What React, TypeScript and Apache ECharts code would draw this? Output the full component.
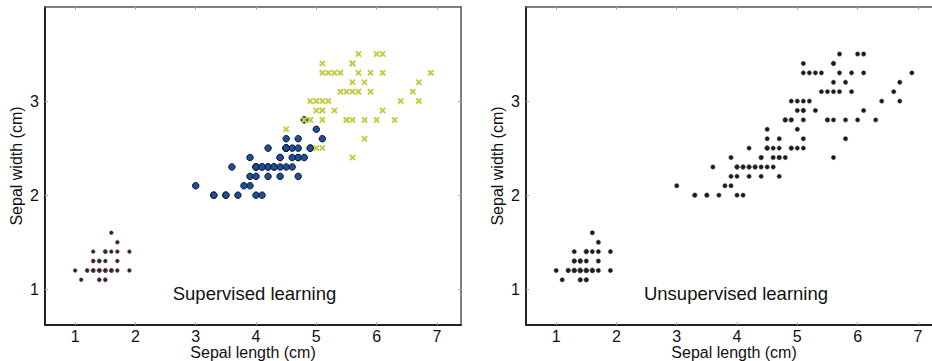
import React, { useEffect, useRef } from "react";
import * as echarts from "echarts";

// Petal-type measurements as plotted (x: "Sepal length (cm)", y: "Sepal width (cm)")
const setosaX = [1.4,1.4,1.3,1.5,1.4,1.7,1.4,1.5,1.4,1.5,1.5,1.6,1.4,1.1,1.2,1.5,1.3,1.4,1.7,1.5,1.7,1.5,1.0,1.7,1.9,1.6,1.6,1.5,1.4,1.6,1.6,1.5,1.5,1.4,1.5,1.2,1.3,1.4,1.3,1.5,1.3,1.3,1.3,1.6,1.9,1.4,1.6,1.4,1.5,1.4];
const setosaY = [1.2,1.2,1.2,1.2,1.2,1.4,1.3,1.2,1.2,1.1,1.2,1.2,1.1,1.1,1.2,1.4,1.4,1.3,1.3,1.3,1.2,1.4,1.2,1.5,1.2,1.2,1.4,1.2,1.2,1.2,1.2,1.4,1.1,1.2,1.2,1.2,1.2,1.1,1.2,1.2,1.3,1.3,1.2,1.6,1.4,1.3,1.2,1.2,1.2,1.2];

const versicolorX = [4.7,4.5,4.9,4.0,4.6,4.5,4.7,3.3,4.6,3.9,3.5,4.2,4.0,4.7,3.6,4.4,4.5,4.1,4.5,3.9,4.8,4.0,4.9,4.7,4.3,4.4,4.8,5.0,4.5,3.5,3.8,3.7,3.9,5.1,4.5,4.5,4.7,4.4,4.1,4.0,4.4,4.6,4.0,3.3,4.2,4.2,4.2,4.3,3.0,4.1];
const versicolorY = [2.4,2.5,2.5,2.3,2.5,2.3,2.6,2.0,2.3,2.4,2.0,2.5,2.0,2.4,2.3,2.4,2.5,2.0,2.5,2.1,2.8,2.3,2.5,2.2,2.3,2.4,2.4,2.7,2.5,2.0,2.1,2.0,2.2,2.6,2.5,2.6,2.5,2.3,2.3,2.3,2.2,2.4,2.2,2.0,2.3,2.2,2.3,2.3,2.1,2.3];

const virginicaX = [6.0,5.1,5.9,5.6,5.8,6.6,4.5,6.3,5.8,6.1,5.1,5.3,5.5,5.0,5.1,5.3,5.5,6.7,6.9,5.0,5.7,4.9,6.7,4.9,5.7,6.0,4.8,4.9,5.6,5.8,6.1,6.4,5.6,5.1,5.6,6.1,5.6,5.5,4.8,5.4,5.6,5.1,5.1,5.9,5.7,5.2,5.0,5.2,5.4,5.1];
const virginicaY = [3.5,2.9,3.1,2.8,3.2,3.1,2.7,2.8,2.8,3.5,3.0,2.9,3.1,3.0,3.4,3.3,2.8,3.2,3.3,2.5,3.3,3.0,3.0,2.8,3.1,2.8,2.8,2.8,3.1,2.6,2.9,3.0,3.2,2.5,2.4,3.3,3.4,2.8,2.8,3.1,3.4,3.3,2.9,3.3,3.5,3.3,2.9,3.0,3.3,2.8];

const xTicks = [1, 2, 3, 4, 5, 6, 7];
const yTicks = [1, 2, 3];
const xTitle = "Sepal length (cm)";
const yTitle = "Sepal width (cm)";
const panelTitles = ["Supervised learning", "Unsupervised learning"];

const FONT = '"Liberation Sans", Arial, sans-serif';
const X_SYMBOL = "path://M0,2 L2,0 L5,3 L8,0 L10,2 L7,5 L10,8 L8,10 L5,7 L2,10 L0,8 L3,5 Z";

const zip = (xs: number[], ys: number[]) => xs.map((x, i) => [x, ys[i]]);

export default function App() {
  const ref = useRef<HTMLDivElement>(null);

  useEffect(() => {
    if (!ref.current) return;
    const chart = echarts.init(ref.current, undefined, { renderer: "svg" });

    const grids = [
      { left: 45, top: 7, width: 416, height: 318, outerBoundsMode: "none", containLabel: false },
      { left: 526, top: 7, width: 416, height: 318, outerBoundsMode: "none", containLabel: false },
    ];

    const xAxes: any[] = [];
    const yAxes: any[] = [];
    grids.forEach((_, gi) => {
      xAxes.push({
        type: "value",
        gridIndex: gi,
        position: "bottom",
        min: 0.5,
        max: 7.4,
        name: xTitle,
        nameLocation: "middle",
        nameGap: 19,
        nameMoveOverlap: false,
        nameTextStyle: { fontFamily: FONT, fontSize: 16, color: "#111" },
        axisLine: { show: true, onZero: false, lineStyle: { color: "#222", width: 2 } },
        axisTick: { show: true, inside: true, length: 3, customValues: xTicks, lineStyle: { color: "#aaa", width: 1 } },
        axisLabel: { show: true, customValues: xTicks, margin: 3, fontFamily: FONT, fontSize: 16, color: "#111" },
        splitLine: { show: false },
      });
      xAxes.push({
        type: "value",
        gridIndex: gi,
        position: "top",
        min: 0.5,
        max: 7.4,
        axisLine: { show: true, onZero: false, lineStyle: { color: "#555", width: 1.5 } },
        axisTick: { show: true, inside: true, length: 3, customValues: xTicks, lineStyle: { color: "#aaa", width: 1 } },
        axisLabel: { show: false },
        splitLine: { show: false },
      });
      yAxes.push({
        type: "value",
        gridIndex: gi,
        position: "left",
        min: 0.62,
        max: 4.0,
        name: yTitle,
        nameLocation: "middle",
        nameGap: 21,
        nameRotate: 90,
        nameMoveOverlap: false,
        nameTextStyle: { fontFamily: FONT, fontSize: 16, color: "#111" },
        axisLine: { show: true, onZero: false, lineStyle: { color: "#222", width: 2 } },
        axisTick: { show: true, inside: true, length: 3, customValues: yTicks, lineStyle: { color: "#aaa", width: 1 } },
        axisLabel: { show: true, customValues: yTicks, margin: 6, fontFamily: FONT, fontSize: 16, color: "#111" },
        splitLine: { show: false },
      });
      yAxes.push({
        type: "value",
        gridIndex: gi,
        position: "right",
        min: 0.62,
        max: 4.0,
        axisLine: { show: true, onZero: false, lineStyle: { color: "#555", width: 1.5 } },
        axisTick: { show: true, inside: true, length: 3, customValues: yTicks, lineStyle: { color: "#aaa", width: 1 } },
        axisLabel: { show: false },
        splitLine: { show: false },
      });
    });

    const allX = [...setosaX, ...versicolorX, ...virginicaX];
    const allY = [...setosaY, ...versicolorY, ...virginicaY];

    chart.setOption({
      animation: false,
      backgroundColor: "#ffffff",
      grid: grids,
      xAxis: xAxes,
      yAxis: yAxes,
      series: [
        {
          type: "scatter",
          xAxisIndex: 0,
          yAxisIndex: 0,
          data: zip(setosaX, setosaY),
          symbol: "circle",
          symbolSize: 4,
          itemStyle: { color: "#3a1c24", borderColor: "#8a7a7e", borderWidth: 0.5, opacity: 1 },
        },
        {
          type: "scatter",
          xAxisIndex: 0,
          yAxisIndex: 0,
          data: zip(versicolorX, versicolorY),
          symbol: "circle",
          symbolSize: 6.5,
          itemStyle: { color: "#1f4e96", borderColor: "#0b1a33", borderWidth: 1, opacity: 1 },
        },
        {
          type: "scatter",
          xAxisIndex: 0,
          yAxisIndex: 0,
          data: zip(virginicaX, virginicaY),
          symbol: X_SYMBOL,
          symbolSize: 6.5,
          itemStyle: { color: "#bfcc3f", opacity: 1 },
        },
        {
          type: "scatter",
          xAxisIndex: 2,
          yAxisIndex: 2,
          data: zip(allX, allY),
          symbol: "circle",
          symbolSize: 4.5,
          itemStyle: { color: "#1a1a1a", borderColor: "#777", borderWidth: 0.5, opacity: 1 },
        },
      ],
      graphic: [
        {
          type: "text",
          x: 254.5,
          y: 293,
          style: {
            text: panelTitles[0],
            fontFamily: FONT,
            fontSize: 18.5,
            fill: "#111",
            textAlign: "center",
            textVerticalAlign: "middle",
          },
        },
        {
          type: "text",
          x: 736,
          y: 293,
          style: {
            text: panelTitles[1],
            fontFamily: FONT,
            fontSize: 18.5,
            fill: "#111",
            textAlign: "center",
            textVerticalAlign: "middle",
          },
        },
      ],
    });

    return () => chart.dispose();
  }, []);

  return (
    <div
      ref={ref}
      style={{ position: "absolute", left: 0, top: 0, width: 932, height: 361, background: "#fff" }}
    />
  );
}
